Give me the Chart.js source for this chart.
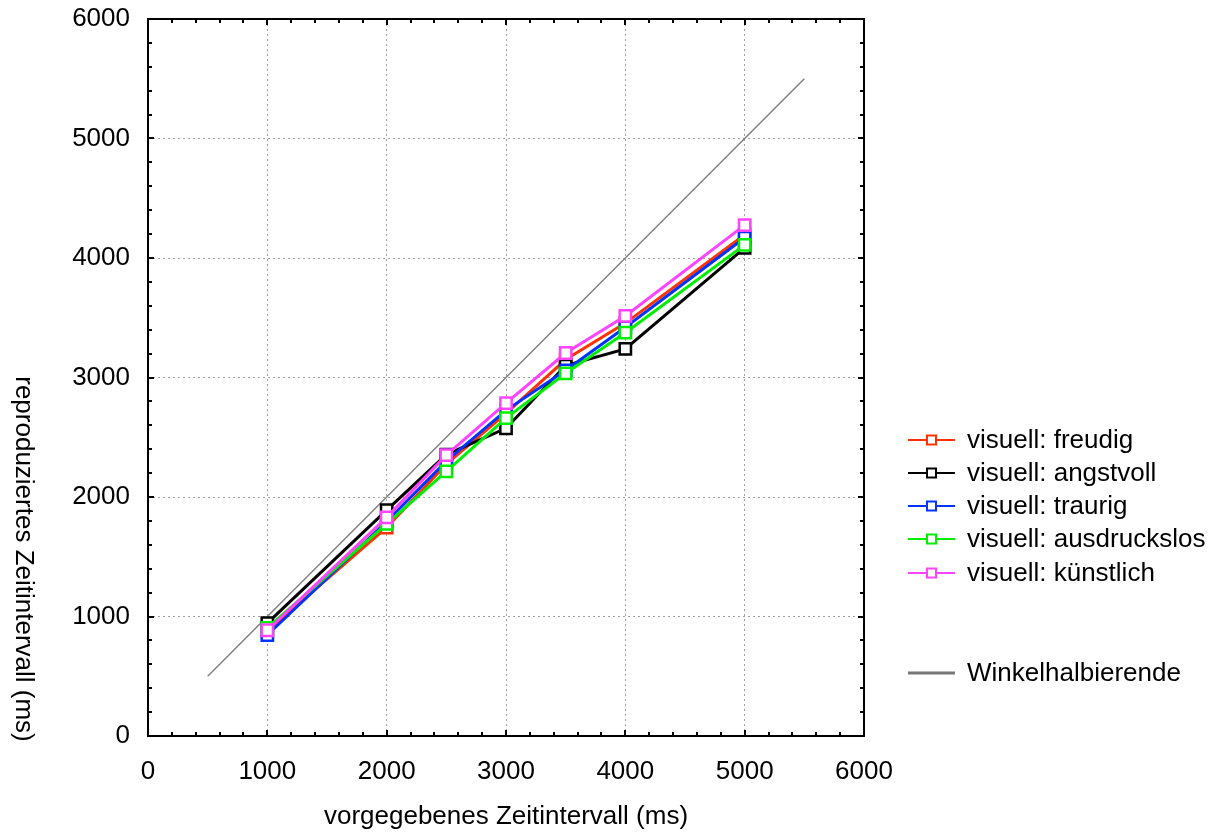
<!DOCTYPE html>
<html>
<head>
<meta charset="utf-8">
<script src="https://cdn.jsdelivr.net/npm/chart.js@4.4.1/dist/chart.umd.min.js"></script>
<style>
  html, body { margin: 0; padding: 0; background: #fff; }
  #wrap { width: 1225px; height: 837px; }
</style>
</head>
<body>
<div id="wrap"><canvas id="chart" width="1225" height="837"></canvas></div>
<script>
// Data
const intervals = [1000, 2000, 2500, 3000, 3500, 4000, 5000];
const freudig      = [880, 1745, 2275, 2700, 3150, 3455, 4195];
const angstvoll    = [945, 1890, 2355, 2575, 3100, 3240, 4085];
const traurig      = [845, 1795, 2300, 2725, 3060, 3420, 4170];
const ausdruckslos = [905, 1775, 2215, 2660, 3035, 3375, 4110];
const kuenstlich   = [885, 1830, 2350, 2785, 3205, 3515, 4275];
const diagonalX = [500, 5500];
const axisTicks = [0, 1000, 2000, 3000, 4000, 5000, 6000];

const FONT = '"Liberation Sans", Arial, sans-serif';

const seriesDefs = [
  { label: 'visuell: freudig', data: freudig, color: '#ff3300', order: 5 },
  { label: 'visuell: angstvoll', data: angstvoll, color: '#000000', order: 4 },
  { label: 'visuell: traurig', data: traurig, color: '#0033ff', order: 3 },
  { label: 'visuell: ausdruckslos', data: ausdruckslos, color: '#00ee00', order: 2 },
  { label: 'visuell: künstlich', data: kuenstlich, color: '#ff44ff', order: 1 }
];

function toPoints(xs, ys) {
  return xs.map((x, i) => ({ x: x, y: ys[i] }));
}

const datasets = seriesDefs.map(s => ({
  label: s.label,
  data: toPoints(intervals, s.data),
  borderColor: s.color,
  backgroundColor: '#ffffff',
  borderWidth: 3,
  pointStyle: 'rect',
  pointRadius: 8,
  pointBorderWidth: 2.5,
  pointBackgroundColor: '#ffffff',
  pointBorderColor: s.color,
  tension: 0,
  order: s.order
}));

datasets.push({
  label: 'Winkelhalbierende',
  data: toPoints(diagonalX, diagonalX),
  borderColor: '#808080',
  borderWidth: 1.5,
  pointRadius: 0,
  order: 10
});

// Frame with inward ticks (major every 1000, minor every 200)
const framePlugin = {
  id: 'frame',
  afterDatasetsDraw(chart) {
    const { ctx, chartArea: a, scales: { x, y } } = chart;
    ctx.save();
    ctx.strokeStyle = '#000';
    ctx.lineWidth = 2;
    ctx.strokeRect(a.left, a.top, a.right - a.left, a.bottom - a.top);
    ctx.beginPath();
    for (let v = 200; v < 6000; v += 200) {
      const len = v % 1000 === 0 ? 6 : 4;
      const px = Math.round(x.getPixelForValue(v));
      ctx.moveTo(px, a.bottom); ctx.lineTo(px, a.bottom - len);
      ctx.moveTo(px, a.top); ctx.lineTo(px, a.top + len);
      const py = Math.round(y.getPixelForValue(v));
      ctx.moveTo(a.left, py); ctx.lineTo(a.left + len, py);
      ctx.moveTo(a.right, py); ctx.lineTo(a.right - len, py);
    }
    ctx.stroke();
    ctx.restore();
  }
};

// Titles and legend at the right
const decorPlugin = {
  id: 'decor',
  afterDraw(chart) {
    const { ctx } = chart;
    ctx.save();
    ctx.fillStyle = '#000';
    ctx.font = '26px ' + FONT;
    ctx.textAlign = 'center';
    ctx.textBaseline = 'middle';
    ctx.fillText('vorgegebenes Zeitintervall (ms)', 506, 817);
    ctx.save();
    ctx.translate(23, 559);
    ctx.rotate(Math.PI / 2);
    ctx.fillText('reproduziertes Zeitintervall (ms)', 0, 0);
    ctx.restore();

    ctx.textAlign = 'left';
    const ys = [440, 473, 506, 539, 573];
    seriesDefs.forEach((s, i) => {
      const yy = ys[i];
      ctx.strokeStyle = s.color;
      ctx.lineWidth = 2;
      ctx.beginPath();
      ctx.moveTo(908, yy); ctx.lineTo(955, yy);
      ctx.stroke();
      ctx.fillStyle = '#fff';
      ctx.fillRect(927, yy - 4.5, 9, 9);
      ctx.strokeRect(927, yy - 4.5, 9, 9);
      ctx.fillStyle = '#000';
      ctx.fillText(s.label, 967, yy + 1);
    });
    ctx.strokeStyle = '#777';
    ctx.lineWidth = 3;
    ctx.beginPath();
    ctx.moveTo(908, 673); ctx.lineTo(955, 673);
    ctx.stroke();
    ctx.fillStyle = '#000';
    ctx.fillText('Winkelhalbierende', 967, 674);
    ctx.restore();
  }
};

function gridColor(c) {
  const v = c.tick ? c.tick.value : null;
  return (v === 0 || v === 6000) ? 'rgba(0,0,0,0)' : '#a0a0a0';
}

const tickFont = { family: FONT, size: 26 };

new Chart(document.getElementById('chart'), {
  type: 'line',
  data: { datasets: datasets },
  options: {
    responsive: false,
    animation: false,
    events: [],
    layout: { padding: { top: 19, right: 361, bottom: 0, left: 0 } },
    plugins: { legend: { display: false }, tooltip: { enabled: false } },
    scales: {
      x: {
        type: 'linear',
        min: 0, max: 6000,
        afterBuildTicks: s => { s.ticks = axisTicks.map(v => ({ value: v })); },
        afterFit: s => { s.height = 101; s.paddingLeft = 0; s.paddingRight = 0; },
        grid: { color: gridColor, lineWidth: 1, drawTicks: false },
        border: { display: false, dash: [2, 3] },
        ticks: { color: '#000', padding: 20, maxRotation: 0, font: tickFont, callback: v => String(v) }
      },
      y: {
        type: 'linear',
        min: 0, max: 6000,
        afterBuildTicks: s => { s.ticks = axisTicks.map(v => ({ value: v })); },
        afterFit: s => { s.width = 148; s.paddingTop = 0; s.paddingBottom = 0; },
        grid: { color: gridColor, lineWidth: 1, drawTicks: false },
        border: { display: false, dash: [2, 3] },
        ticks: { color: '#000', padding: 18, font: tickFont, callback: v => String(v) }
      }
    }
  },
  plugins: [framePlugin, decorPlugin]
});
</script>
</body>
</html>
